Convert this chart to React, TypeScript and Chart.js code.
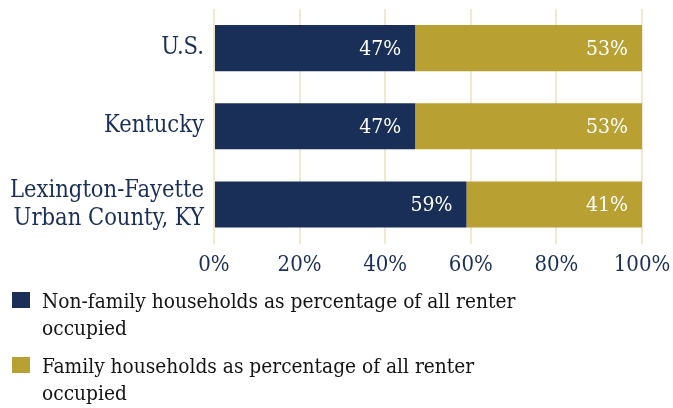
import React, { useEffect, useRef } from "react";
import { Chart, registerables } from "chart.js";

Chart.register(...registerables);

const categories: (string | string[])[] = ["U.S.", "Kentucky", ["Lexington-Fayette", "Urban County, KY"]];
const nonFamily = [47, 47, 59];
const family = [53, 53, 41];
const seriesNames = [
  ["Non-family households as percentage of all renter", "occupied"],
  ["Family households as percentage of all renter", "occupied"],
];
const tickValues = [0, 20, 40, 60, 80, 100];

const NAVY = "#1a2f57";
const GOLD = "#b8a032";
const GRID = "#f1e8cf";
const FONT = '"DejaVu Serif Condensed", "DejaVu Serif", serif';

const dataLabelPlugin = {
  id: "dataLabels",
  afterDatasetsDraw(chart: any) {
    const ctx = chart.ctx;
    ctx.save();
    ctx.font = `21px ${FONT}`;
    ctx.fillStyle = "#ffffff";
    ctx.textAlign = "right";
    ctx.textBaseline = "middle";
    chart.data.datasets.forEach((ds: any, di: number) => {
      const meta = chart.getDatasetMeta(di);
      meta.data.forEach((bar: any, i: number) => {
        ctx.fillText(`${ds.data[i]}%`, bar.x - 14, bar.y + 1);
      });
    });
    ctx.restore();
  },
};

const legendPlugin = {
  id: "customLegend",
  afterDraw(chart: any) {
    const ctx = chart.ctx;
    ctx.save();
    ctx.font = `20.7px ${FONT}`;
    ctx.textBaseline = "alphabetic";
    ctx.textAlign = "left";
    const colors = [NAVY, GOLD];
    let y = 308;
    seriesNames.forEach((lines, i) => {
      ctx.fillStyle = colors[i];
      ctx.fillRect(12, y - 16, 18, 16);
      ctx.fillStyle = "#141414";
      lines.forEach((line, li) => {
        ctx.fillText(line, 42, y + li * 27);
      });
      y += 65;
    });
    ctx.restore();
  },
};

export default function App() {
  const ref = useRef<HTMLCanvasElement>(null);
  useEffect(() => {
    if (!ref.current) return;
    const chart = new Chart(ref.current, {
      type: "bar",
      data: {
        labels: categories,
        datasets: [
          { label: seriesNames[0].join(" "), data: nonFamily, backgroundColor: NAVY, barPercentage: 0.59, categoryPercentage: 1 },
          { label: seriesNames[1].join(" "), data: family, backgroundColor: GOLD, barPercentage: 0.59, categoryPercentage: 1 },
        ],
      },
      options: {
        indexAxis: "y",
        animation: false,
        responsive: false,
        maintainAspectRatio: false,
        layout: { padding: { top: 9, right: 31, bottom: 122, left: 0 } },
        plugins: { legend: { display: false }, tooltip: { enabled: false } },
        scales: {
          x: {
            stacked: true,
            min: 0,
            max: 100,
            afterBuildTicks: (axis: any) => {
              axis.ticks = tickValues.map((v) => ({ value: v }));
            },
            afterFit: (axis: any) => {
              axis.paddingLeft = 0;
              axis.paddingRight = 0;
            },
            border: { display: false },
            grid: { color: GRID, lineWidth: 2, drawTicks: false },
            ticks: { color: NAVY, font: { family: FONT, size: 22 }, padding: 8, callback: (v: any) => `${v}%` },
          },
          y: {
            stacked: true,
            afterFit: (axis: any) => {
              axis.paddingTop = 0;
              axis.paddingBottom = 0;
            },
            border: { display: false },
            grid: { display: false, drawTicks: false },
            ticks: { color: NAVY, font: { family: FONT, size: 23.5 }, padding: 10 },
          },
        },
      },
      plugins: [dataLabelPlugin, legendPlugin],
    });
    return () => chart.destroy();
  }, []);
  return (
    <div style={{ position: "fixed", left: 0, top: 0, width: 673, height: 408, background: "#fff" }}>
      <canvas ref={ref} width={673} height={408} style={{ width: 673, height: 408 }} />
    </div>
  );
}
